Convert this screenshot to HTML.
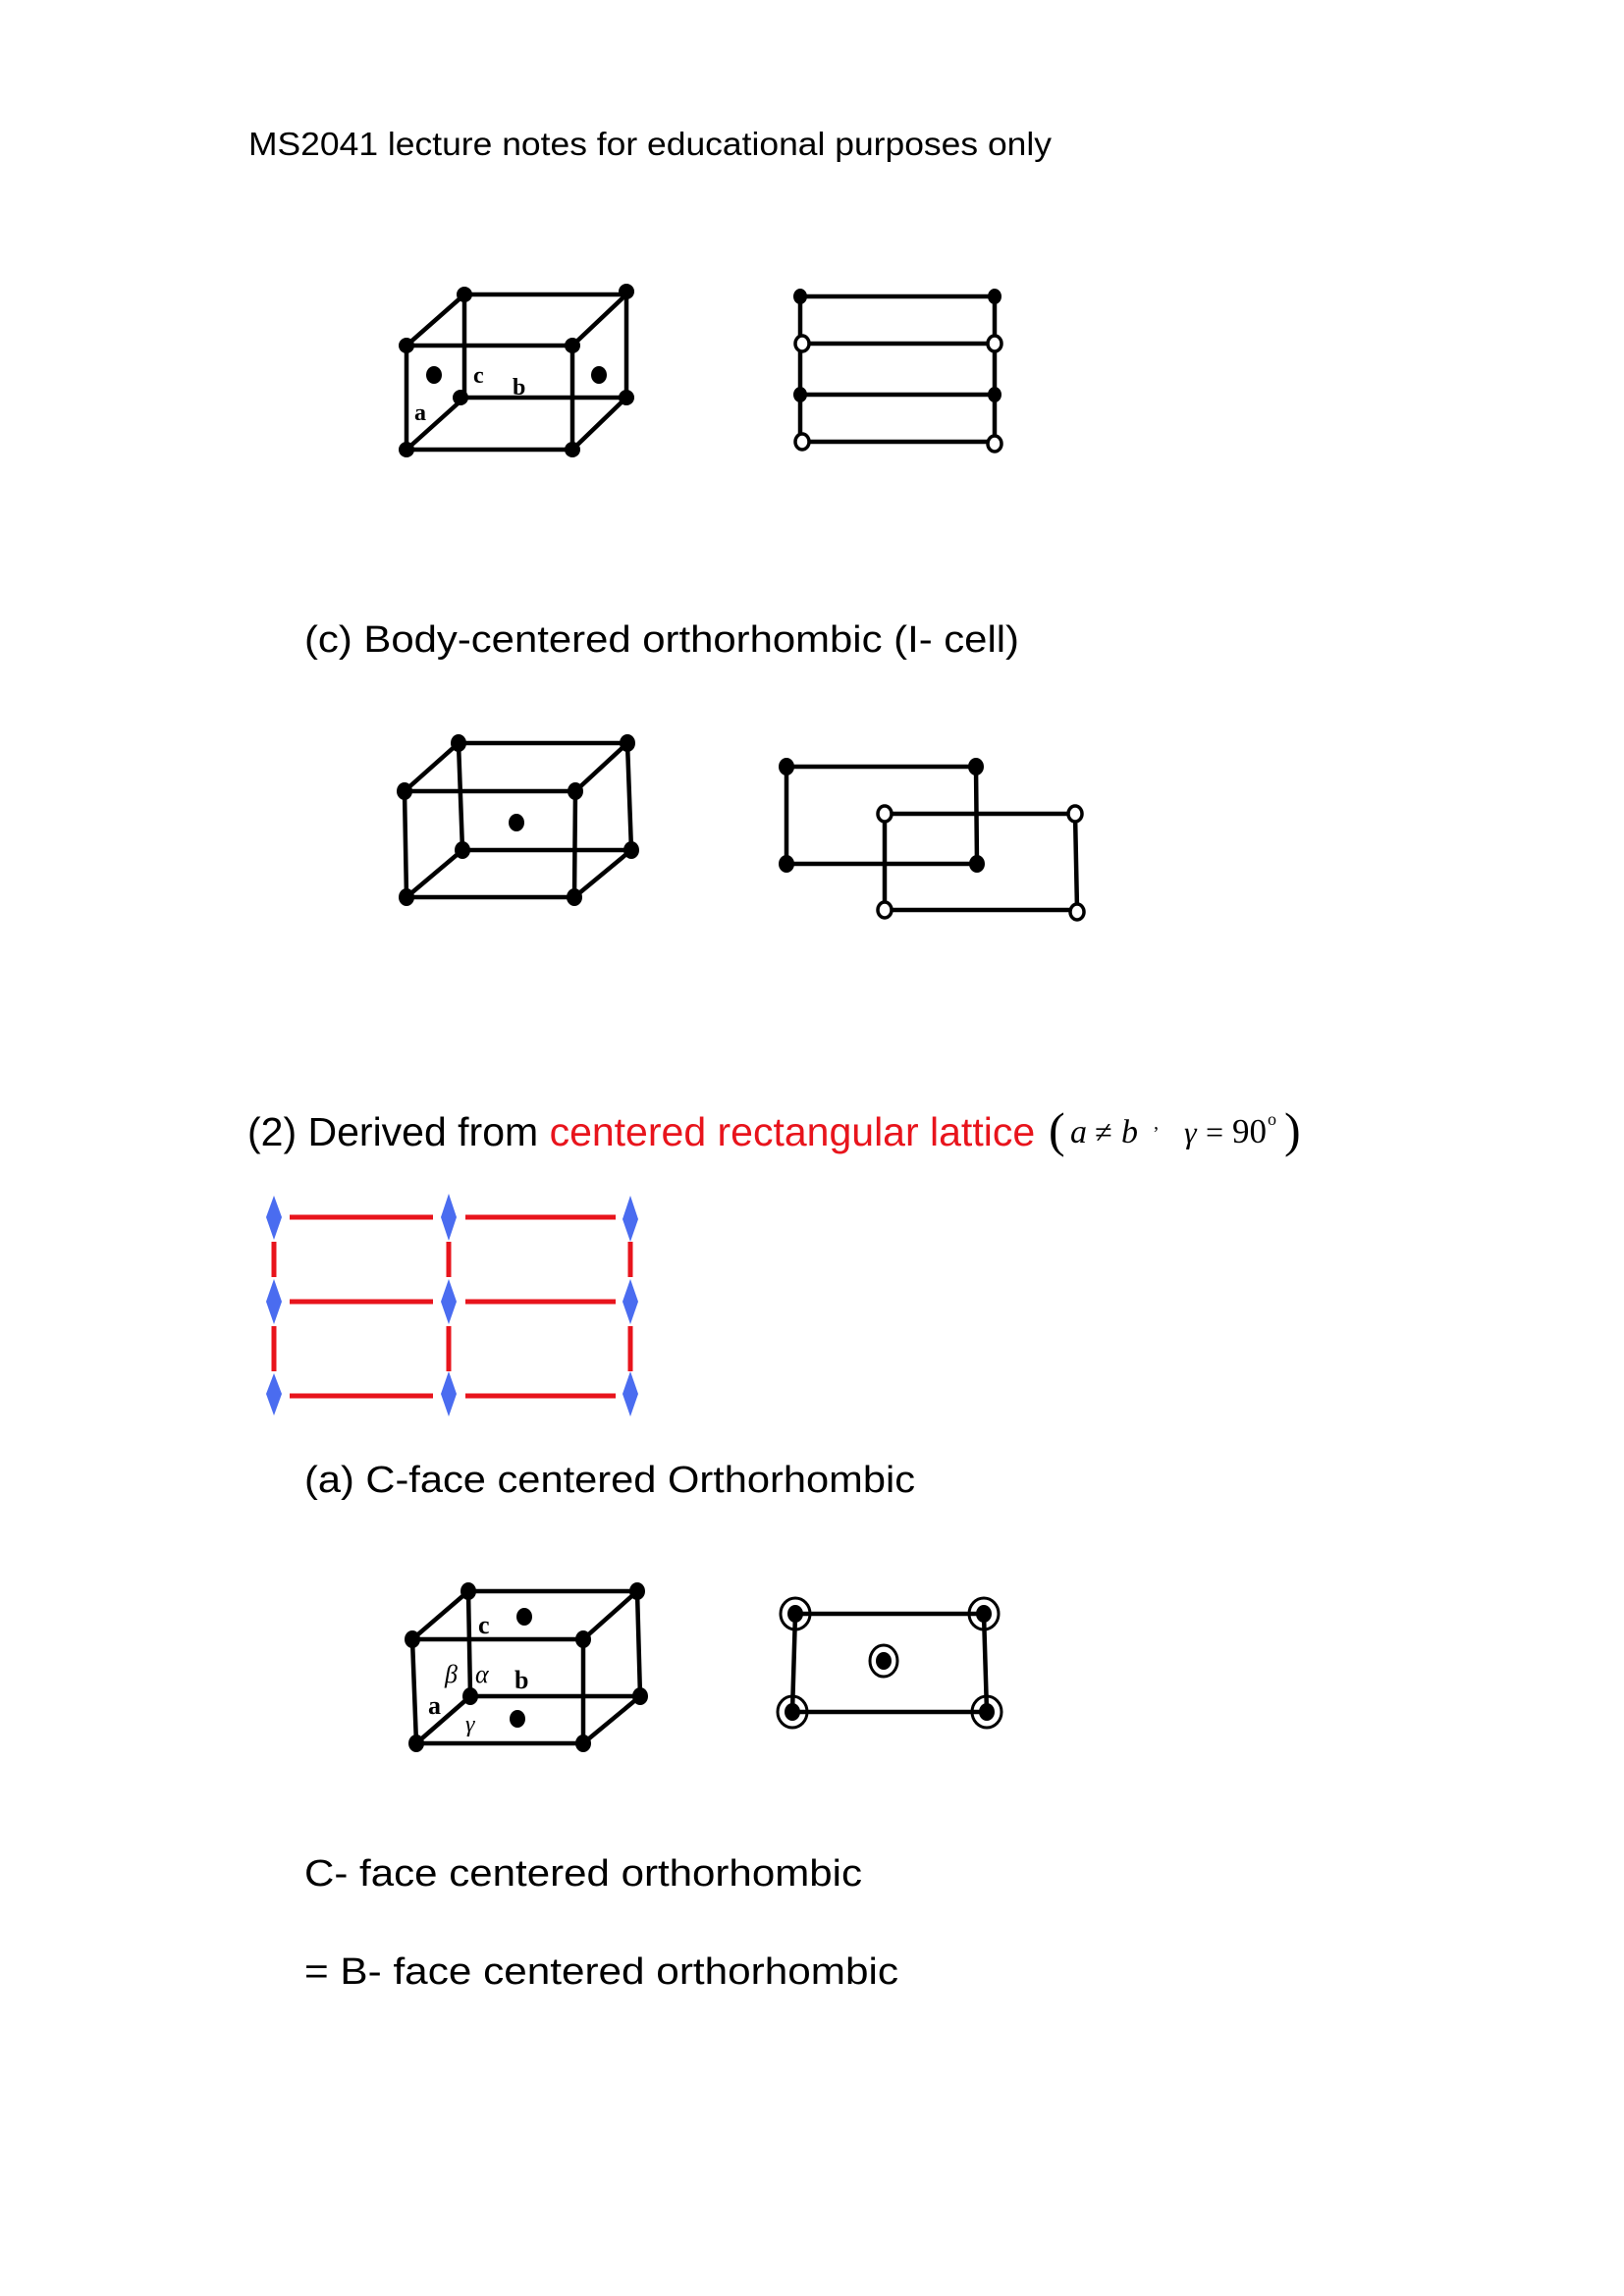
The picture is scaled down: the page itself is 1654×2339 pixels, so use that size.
<!DOCTYPE html>
<html><head><meta charset="utf-8"><style>
html,body{margin:0;padding:0;background:#fff;}
svg{display:block;}
.t{font-family:"Liberation Sans",sans-serif;fill:#000;}
.m{font-family:"Liberation Serif",serif;font-style:italic;fill:#000;}
.l{stroke:#000;stroke-width:4.5;fill:none;stroke-linecap:round;}
.d{fill:#000;}
.o{fill:#fff;stroke:#000;stroke-width:3.5;}
</style></head><body>
<svg width="1654" height="2339" viewBox="0 0 1654 2339" xmlns="http://www.w3.org/2000/svg">
<text class="t" x="253" y="158" font-size="33" textLength="818" lengthAdjust="spacingAndGlyphs">MS2041 lecture notes for educational purposes only</text>

<!-- Fig 1 -->
<g class="l">
<path d="M473,300 L638,300 L638,405 L583,458 L414,458 L414,352 L473,300 L473,405 L638,405"/>
<path d="M414,352 L583,352 L638,300 M583,352 L583,458 M414,458 L473,405"/>
<path d="M815,302 L1013,302 M815,350 L1013,350 M815,402 L1013,402 M815,450 L1013,450 M815,302 L815,450 M1013,302 L1013,450"/>
</g>
<g class="d">
<ellipse cx="473" cy="300" rx="8" ry="8"/><ellipse cx="638" cy="297" rx="8" ry="8"/>
<ellipse cx="414" cy="352" rx="8" ry="8"/><ellipse cx="583" cy="352" rx="8" ry="8"/>
<ellipse cx="469" cy="405" rx="8" ry="8"/><ellipse cx="638" cy="405" rx="8" ry="8"/>
<ellipse cx="414" cy="458" rx="8" ry="8"/><ellipse cx="583" cy="458" rx="8" ry="8"/>
<ellipse cx="442" cy="382" rx="8" ry="9"/><ellipse cx="610" cy="382" rx="8" ry="9"/>
<ellipse cx="815" cy="302" rx="7" ry="8"/><ellipse cx="1013" cy="302" rx="7" ry="8"/>
<ellipse cx="815" cy="402" rx="7" ry="8"/><ellipse cx="1013" cy="402" rx="7" ry="8"/>
</g>
<g class="o">
<ellipse cx="817" cy="350" rx="7" ry="8"/><ellipse cx="1013" cy="350" rx="7" ry="8"/>
<ellipse cx="817" cy="450" rx="7" ry="8"/><ellipse cx="1013" cy="452" rx="7" ry="8"/>
</g>
<g font-family="Liberation Serif,serif" font-weight="bold" font-size="24">
<text x="482" y="390">c</text><text x="522" y="402">b</text><text x="422" y="428">a</text>
</g>

<text class="t" x="310" y="664" font-size="38" textLength="728" lengthAdjust="spacingAndGlyphs">(c) Body-centered orthorhombic (I- cell)</text>

<!-- Fig 2 -->
<g class="l">
<path d="M467,757 L639,757 L643,866 L585,914 L414,914 L412,806 L467,757 L471,866 L643,866"/>
<path d="M412,806 L586,806 L639,757 M586,806 L585,914 M414,914 L471,866"/>
<path d="M801,781 L994,781 L995,880 L801,880 Z"/>
<path d="M901,829 L1095,829 L1097,927 L901,927 Z"/>
</g>
<g class="d">
<ellipse cx="467" cy="757" rx="8" ry="9"/><ellipse cx="639" cy="757" rx="8" ry="9"/>
<ellipse cx="412" cy="806" rx="8" ry="9"/><ellipse cx="586" cy="806" rx="8" ry="9"/>
<ellipse cx="471" cy="866" rx="8" ry="9"/><ellipse cx="643" cy="866" rx="8" ry="9"/>
<ellipse cx="414" cy="914" rx="8" ry="9"/><ellipse cx="585" cy="914" rx="8" ry="9"/>
<ellipse cx="526" cy="838" rx="8" ry="9"/>
<ellipse cx="801" cy="781" rx="8" ry="9"/><ellipse cx="994" cy="781" rx="8" ry="9"/>
<ellipse cx="801" cy="880" rx="8" ry="9"/><ellipse cx="995" cy="880" rx="8" ry="9"/>
</g>
<g class="o">
<ellipse cx="901" cy="829" rx="7" ry="8"/><ellipse cx="1095" cy="829" rx="7" ry="8"/>
<ellipse cx="901" cy="927" rx="7" ry="8"/><ellipse cx="1097" cy="929" rx="7" ry="8"/>
</g>

<!-- Section 2 heading -->
<text x="252" y="1167" font-size="41" font-family="Liberation Sans,sans-serif"><tspan fill="#000">(2) Derived from </tspan><tspan fill="#e8141c">centered rectangular lattice</tspan></text>
<g font-family="Liberation Serif,serif">
<text x="1068" y="1168" font-size="50">(</text>
<text class="m" x="1090" y="1164" font-size="34">a</text>
<text x="1115" y="1164" font-size="32">≠</text>
<text class="m" x="1142" y="1164" font-size="34">b</text>
<text x="1175" y="1150" font-size="20">,</text>
<text class="m" x="1206" y="1164" font-size="32">γ</text>
<text x="1228" y="1164" font-size="32">=</text>
<text x="1255" y="1164" font-size="35">90</text>
<text x="1291" y="1146" font-size="18">o</text>
<text x="1308" y="1168" font-size="50">)</text>
</g>

<!-- lattice -->
<g stroke="#e8141c" stroke-width="5">
<path d="M295,1240 H441 M474,1240 H627 M295,1326 H441 M474,1326 H627 M295,1422 H441 M474,1422 H627"/>
<path d="M279,1265 V1301 M279,1351 V1397 M457,1265 V1301 M457,1351 V1397 M642,1265 V1301 M642,1351 V1397"/>
</g>
<g fill="#4a6cf0">
<path d="M279,1218 L287,1240 L279,1263 L271,1240 Z"/>
<path d="M457,1216 L465,1240 L457,1264 L449,1240 Z"/>
<path d="M642,1218 L650,1242 L642,1265 L634,1242 Z"/>
<path d="M279,1303 L287,1326 L279,1349 L271,1326 Z"/>
<path d="M457,1303 L465,1326 L457,1349 L449,1326 Z"/>
<path d="M642,1303 L650,1326 L642,1349 L634,1326 Z"/>
<path d="M279,1399 L287,1420 L279,1442 L271,1420 Z"/>
<path d="M457,1397 L465,1420 L457,1443 L449,1420 Z"/>
<path d="M642,1397 L650,1420 L642,1443 L634,1420 Z"/>
</g>

<text class="t" x="310" y="1520" font-size="38" textLength="622" lengthAdjust="spacingAndGlyphs">(a) C-face centered Orthorhombic</text>

<!-- Fig 4 -->
<g class="l">
<path d="M477,1621 L649,1621 L652,1728 L594,1776 L424,1776 L420,1670 L477,1621 L479,1728 L652,1728"/>
<path d="M420,1670 L594,1670 L649,1621 M594,1670 L594,1776 M424,1776 L479,1728"/>
<path d="M810,1644 L1002,1644 L1005,1744 L807,1744 L810,1644"/>
</g>
<g class="d">
<ellipse cx="477" cy="1621" rx="8" ry="9"/><ellipse cx="649" cy="1621" rx="8" ry="9"/>
<ellipse cx="420" cy="1670" rx="8" ry="9"/><ellipse cx="594" cy="1670" rx="8" ry="9"/>
<ellipse cx="479" cy="1728" rx="8" ry="9"/><ellipse cx="652" cy="1728" rx="8" ry="9"/>
<ellipse cx="424" cy="1776" rx="8" ry="9"/><ellipse cx="594" cy="1776" rx="8" ry="9"/>
<ellipse cx="534" cy="1647" rx="8" ry="9"/><ellipse cx="527" cy="1751" rx="8" ry="9"/>
</g>
<g fill="none" stroke="#000" stroke-width="3">
<ellipse cx="810" cy="1644" rx="15" ry="16"/><ellipse cx="1002" cy="1644" rx="15" ry="16"/>
<ellipse cx="807" cy="1744" rx="15" ry="16"/><ellipse cx="1005" cy="1744" rx="15" ry="16"/>
<ellipse cx="900" cy="1692" rx="14" ry="16"/>
</g>
<g class="d">
<ellipse cx="810" cy="1644" rx="8" ry="9"/><ellipse cx="1002" cy="1644" rx="8" ry="9"/>
<ellipse cx="807" cy="1744" rx="8" ry="9"/><ellipse cx="1005" cy="1744" rx="8" ry="9"/>
<ellipse cx="900" cy="1692" rx="8" ry="9"/>
</g>
<g font-family="Liberation Serif,serif" font-size="26">
<text x="487" y="1664" font-weight="bold">c</text>
<text x="453" y="1714" font-style="italic">β</text>
<text x="484" y="1714" font-style="italic">α</text>
<text x="524" y="1720" font-weight="bold">b</text>
<text x="436" y="1746" font-weight="bold">a</text>
<text x="474" y="1764" font-style="italic" font-size="24">γ</text>
</g>

<text class="t" x="310" y="1921" font-size="38" textLength="568" lengthAdjust="spacingAndGlyphs">C- face centered orthorhombic</text>
<text class="t" x="310" y="2021" font-size="38" textLength="605" lengthAdjust="spacingAndGlyphs">= B- face centered orthorhombic</text>
</svg>
</body></html>
